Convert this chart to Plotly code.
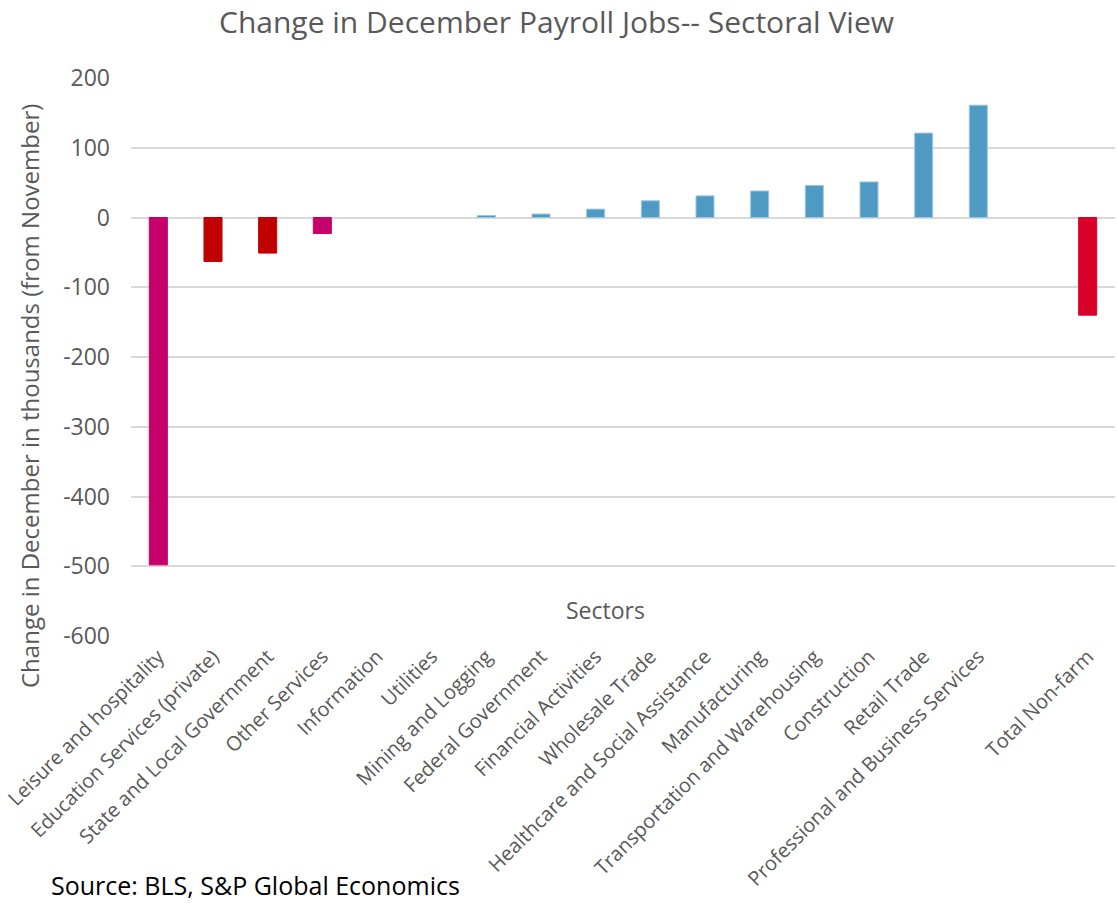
import plotly.graph_objects as go

categories = [
    "Leisure and hospitality", "Education Services (private)", "State and Local Government",
    "Other Services", "Information", "Utilities", "Mining and Logging", "Federal Government",
    "Financial Activities", "Wholesale Trade", "Healthcare and Social Assistance",
    "Manufacturing", "Transportation and Warehousing", "Construction", "Retail Trade",
    "Professional and Business Services", " ", "Total Non-farm",
]
values = [-498, -63, -51, -23, 0, 0, 3, 5, 12, 24, 31, 38, 46, 51, 121, 161, None, -140]
colors = [
    "#C5006A", "#C00000", "#C00000", "#C5006A", "#4F9AC3", "#4F9AC3", "#4F9AC3", "#4F9AC3",
    "#4F9AC3", "#4F9AC3", "#4F9AC3", "#4F9AC3", "#4F9AC3", "#4F9AC3", "#4F9AC3", "#4F9AC3",
    "#4F9AC3", "#D9002A",
]
line_colors = ["#9CC7E0" if c == "#4F9AC3" else c for c in colors]
line_widths = [0 if v == 0 else 1 for v in values]
y_ticks = [200, 100, 0, -100, -200, -300, -400, -500, -600]
y_tick_text = [str(v) for v in y_ticks]

font = "Open Sans"
gray = "#595959"

W, H = 1117, 903
ml, mr, mt, mb = 131, 2, 78, 267
pw, ph = W - ml - mr, H - mt - mb


def px(xp):
    return (xp - ml) / pw


def py(yp):
    return (H - mb - yp) / ph


fig = go.Figure(go.Bar(
    x=categories, y=values,
    marker=dict(color=colors, line=dict(color=line_colors, width=line_widths)),
))

fig.update_layout(
    width=W, height=H,
    paper_bgcolor="white", plot_bgcolor="white",
    margin=dict(l=ml, r=mr, t=mt, b=mb),
    bargap=0.67,
    showlegend=False,
    font=dict(family=font, color=gray),
    xaxis=dict(type="category", categoryorder="array", categoryarray=categories,
               tickangle=-45, tickfont=dict(size=20, color=gray), showgrid=False,
               showline=False, ticks="", ticklabelstandoff=4),
    yaxis=dict(range=[-600, 200], tickvals=y_ticks, ticktext=y_tick_text,
               showgrid=True, gridcolor="#D9D9D9",
               gridwidth=2, zeroline=False, tickfont=dict(size=23, color=gray),
               ticklabelstandoff=20),
    annotations=[
        dict(text="Change in December Payroll Jobs-- Sectoral View",
             x=px(556), y=py(21), xref="paper", yref="paper",
             xanchor="center", yanchor="middle", showarrow=False,
             font=dict(size=30, color=gray, family=font)),
        dict(text="Sectors", x=px(605), y=py(610), xref="paper", yref="paper",
             xanchor="center", yanchor="middle", showarrow=False,
             font=dict(size=23, color=gray, family=font)),
        dict(text="Change in December in thousands (from November)", textangle=-90,
             x=px(30), y=py(396), xref="paper", yref="paper",
             xanchor="center", yanchor="middle", showarrow=False,
             font=dict(size=24, color=gray, family=font)),
        dict(text="Source: BLS, S&P Global Economics", x=px(49), y=py(885),
             xref="paper", yref="paper", xanchor="left", yanchor="middle",
             showarrow=False, font=dict(size=25, color="black", family=font)),
    ],
)

fig.write_html("out.html")
